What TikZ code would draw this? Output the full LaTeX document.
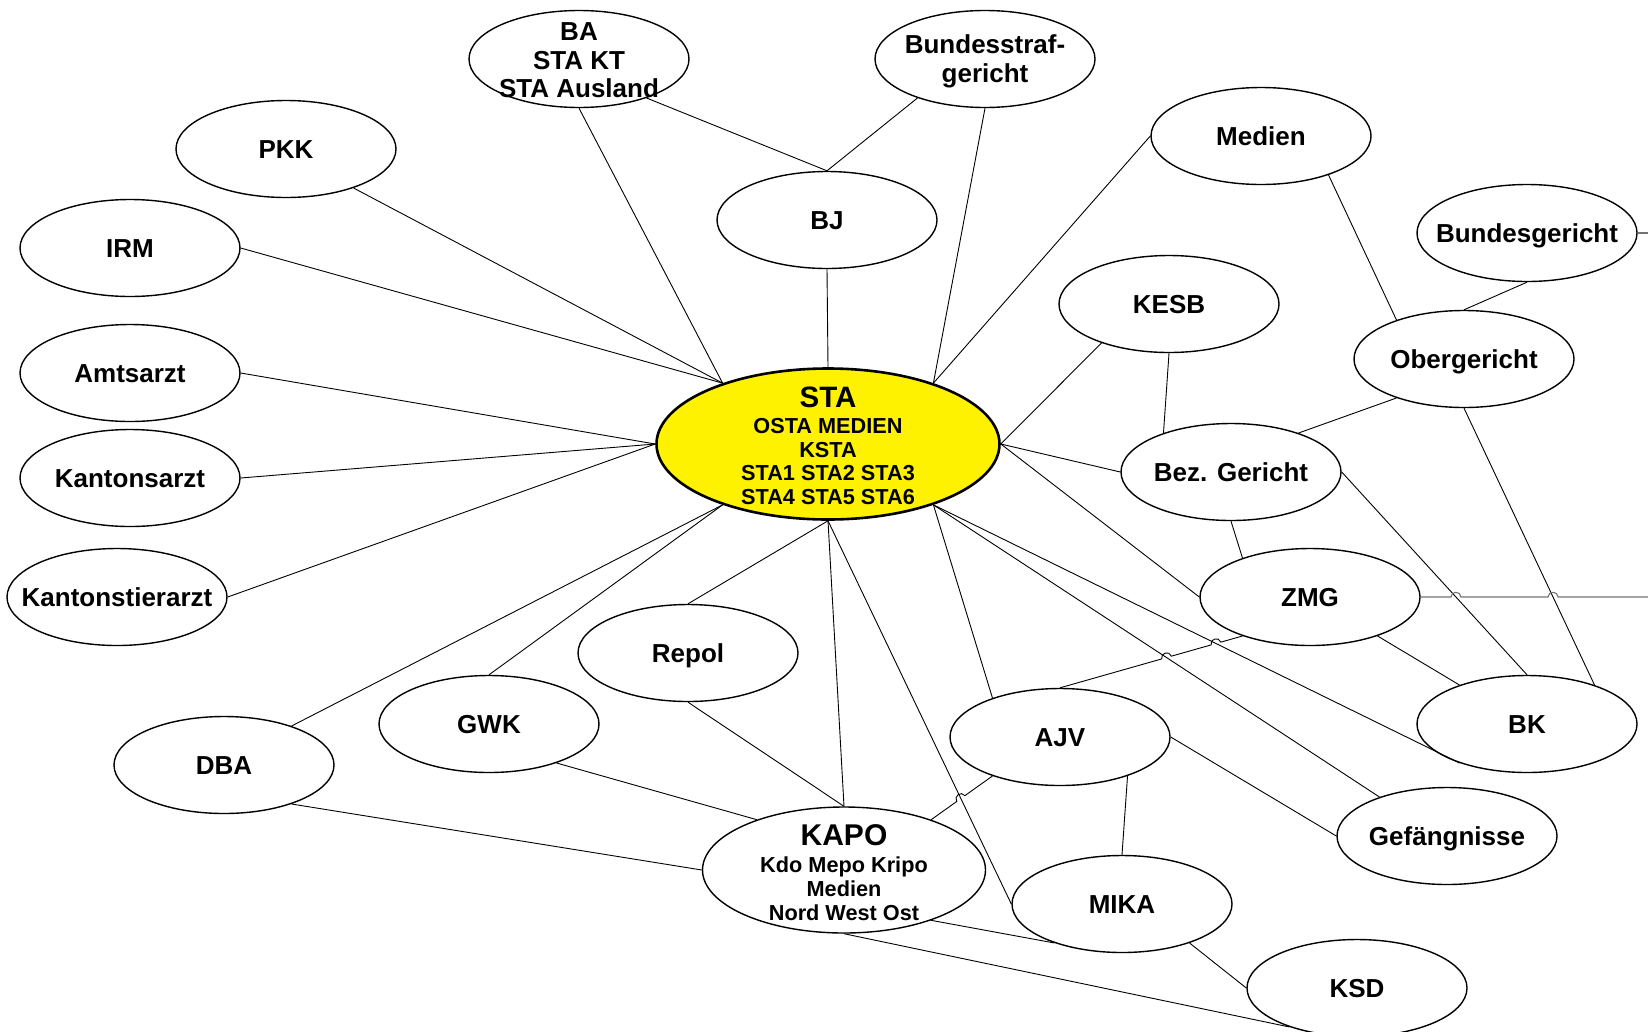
\documentclass[tikz,border=0pt]{standalone}
\usepackage{fontspec}
\setmainfont{Liberation Sans}
\usetikzlibrary{shapes.geometric,calc,intersections}
\begin{document}
\begin{tikzpicture}[x=1pt,y=-1pt,
  oval/.style={ellipse, draw, line width=1.4pt, fill=white, minimum width=220pt, minimum height=97pt, inner sep=0pt},
  lbl/.style={font=\fontsize{26}{28.5}\selectfont\bfseries, align=center, inner sep=0pt},
  lblone/.style={lbl, text height=18.6pt, text depth=0pt},
  conn/.style={line width=0.9pt},
  side/.style={line width=1.1pt, black!55},
  hop/.style={bend left=90, looseness=1.6}]
\useasboundingbox (0,0) rectangle (1648,1031);
\clip (0,0) rectangle (1648,1031);

% ---------- nodes ----------
\node[oval] (ba) at (579,59) {};
\node[oval] (bstg) at (985,59) {};
\node[oval] (pkk) at (286,149) {};
\node[oval] (irm) at (130,248) {};
\node[oval] (bj) at (827,220) {};
\node[oval] (medien) at (1261,136) {};
\node[oval] (bger) at (1527,233) {};
\node[oval] (kesb) at (1169,304) {};
\node[oval] (oger) at (1464,359) {};
\node[oval] (amts) at (130,373) {};
\node[ellipse, draw, line width=2.6pt, fill=yellow, minimum width=343pt, minimum height=151pt, inner sep=0pt] (sta) at (828,444) {};
\node[oval] (kantarzt) at (130,478) {};
\node[oval] (bez) at (1231,472) {};
\node[oval] (zmg) at (1310,597) {};
\node[oval] (ktier) at (117,597) {};
\node[oval] (repol) at (688,653) {};
\node[oval] (gwk) at (489,724) {};
\node[oval] (ajv) at (1060,737) {};
\node[oval] (bk) at (1527,724) {};
\node[oval] (dba) at (224,765) {};
\node[oval, minimum width=283pt, minimum height=126pt] (kapo) at (844,870) {};
\node[oval] (gef) at (1447,836) {};
\node[oval] (mika) at (1122,904) {};
\node[oval] (ksd) at (1357,988) {};
\coordinate (bgerR) at (1648,233);
\coordinate (zmgR) at (1648,597);

% ---------- connectors ----------
\draw[conn] (ba.270) -- (sta.150);
\draw[conn] (ba.-30) -- (bj.90);
\draw[conn] (bstg.210) -- (bj.90);
\draw[conn] (bstg.270) -- (sta.30);
\draw[conn] (pkk.-30) -- (sta.150);
\draw[conn] (irm.0) -- (sta.150);
\draw[conn] (bj.270) -- (sta.90);
\draw[conn] (medien.180) -- (sta.30);
\draw[conn] (medien.-30) -- (oger.150);
\draw[conn] (bger.270) -- (oger.90);
\draw[side] (bger.0) -- (bgerR);
\draw[conn] (kesb.210) -- (sta.0);
\draw[conn] (kesb.270) -- (bez.150);
\draw[conn] (oger.210) -- (bez.30);
\draw[conn, name path=ogerbk] (oger.270) -- (bk.30);
\draw[conn] (amts.0) -- (sta.180);
\draw[conn] (kantarzt.0) -- (sta.180);
\draw[conn] (ktier.0) -- (sta.180);
\draw[conn] (sta.0) -- (bez.180);
\draw[conn] (sta.0) -- (zmg.180);
\draw[conn] (bez.270) -- (zmg.150);
\draw[conn, name path=bezbk] (bez.0) -- (bk.90);
\draw[conn] (zmg.-30) -- (bk.150);
\draw[conn, name path=stabk] (sta.-30) -- (bk.210);
\draw[conn, name path=stagef] (sta.-30) -- (gef.150);
\draw[conn] (sta.-30) -- (ajv.150);
\draw[conn] (sta.270) -- (kapo.90);
\draw[conn] (sta.270) -- (repol.90);
\draw[conn, name path=stamika] (sta.270) -- (mika.180);
\draw[conn] (sta.210) -- (dba.30);
\draw[conn] (sta.210) -- (gwk.90);
\draw[conn] (repol.270) -- (kapo.90);
\draw[conn] (gwk.-30) -- (kapo.150);
\draw[conn] (dba.-30) -- (kapo.180);
\draw[conn] (ajv.-30) -- (mika.90);
\draw[conn] (ajv.0) -- (gef.180);
\draw[conn] (kapo.-30) -- (mika.210);
\draw[conn] (kapo.270) -- (ksd.210);
\draw[conn] (mika.-30) -- (ksd.180);

% lines with hops
\path[name path=zmgline] (zmg.0) -- (zmgR);
\path[name intersections={of=zmgline and bezbk, by=h1}];
\path[name intersections={of=zmgline and ogerbk, by=h2}];
\draw[side] (zmg.0) -- ($(h1)!5pt!(zmg.0)$) to[hop] ($(h1)!5pt!(zmgR)$)
  -- ($(h2)!5pt!(zmg.0)$) to[hop] ($(h2)!5pt!(zmgR)$) -- (zmgR);

\path[name path=zaline] (ajv.90) -- (zmg.210);
\path[name intersections={of=zaline and stagef, by=h3}];
\path[name intersections={of=zaline and stabk, by=h4}];
\draw[conn] (ajv.90) -- ($(h3)!5pt!(ajv.90)$) to[hop] ($(h3)!5pt!(zmg.210)$)
  -- ($(h4)!5pt!(ajv.90)$) to[hop] ($(h4)!5pt!(zmg.210)$) -- (zmg.210);

\path[name path=kaline] (kapo.30) -- (ajv.210);
\path[name intersections={of=kaline and stamika, by=h5}];
\draw[conn] (kapo.30) -- ($(h5)!5pt!(kapo.30)$) to[hop] ($(h5)!5pt!(ajv.210)$) -- (ajv.210);

% ---------- texts ----------
\node[lbl] (ba-t) at ($(ba)+(0,1.5)$) {BA\\STA KT\\STA Ausland};
\node[lbl] (bstg-t) at ($(bstg)+(0,2.5)$) {Bundesstraf-\\gericht};
\node[lblone] (pkk-t) at (pkk) {PKK};
\node[lblone] (irm-t) at (irm) {IRM};
\node[lblone] (bj-t) at (bj) {BJ};
\node[lblone] (medien-t) at (medien) {Medien};
\node[lblone] (bger-t) at (bger) {Bundesgericht};
\node[lblone] (kesb-t) at (kesb) {KESB};
\node[lblone] (oger-t) at (oger) {Obergericht};
\node[lblone] (amts-t) at (amts) {Amtsarzt};
\node[lbl, font=\fontsize{21.7}{23.5}\selectfont\bfseries] (sta-t) at ($(sta)+(0,2)$)
  {{\fontsize{29.5}{29}\selectfont STA}\\[2.5pt]OSTA MEDIEN\\KSTA\\STA1 STA2 STA3\\STA4 STA5 STA6};
\node[lblone] (kantarzt-t) at (kantarzt) {Kantonsarzt};
\node[lblone] (bez-t) at (bez) {Bez. Gericht};
\node[lblone] (zmg-t) at (zmg) {ZMG};
\node[lblone] (ktier-t) at (ktier) {Kantonstierarzt};
\node[lblone] (repol-t) at (repol) {Repol};
\node[lblone] (gwk-t) at (gwk) {GWK};
\node[lblone] (ajv-t) at (ajv) {AJV};
\node[lblone] (bk-t) at (bk) {BK};
\node[lblone] (dba-t) at (dba) {DBA};
\node[lbl, font=\fontsize{21.7}{24}\selectfont\bfseries] (kapo-t) at ($(kapo)+(0,2.5)$)
  {{\fontsize{30}{29}\selectfont KAPO}\\[2.5pt]Kdo Mepo Kripo\\Medien\\Nord West Ost};
\node[lblone] (gef-t) at (gef) {Gefängnisse};
\node[lblone] (mika-t) at (mika) {MIKA};
\node[lblone] (ksd-t) at (ksd) {KSD};
\end{tikzpicture}
\end{document}
